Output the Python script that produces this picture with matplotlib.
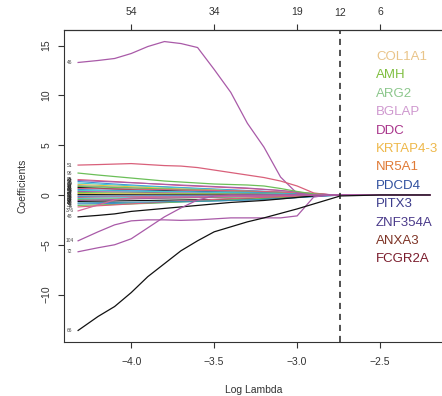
import matplotlib
matplotlib.use("Agg")
import matplotlib.pyplot as plt

plt.rcParams["font.family"] = ["Liberation Sans", "DejaVu Sans"]

# --- log lambda grids ---
x_fine = [-4.32, -4.2, -4.1, -4.0, -3.9, -3.8, -3.7, -3.6, -3.5, -3.4, -3.3,
          -3.2, -3.1, -3.0, -2.9, -2.8, -2.74, -2.5, -2.2]
x_coarse = [-4.32, -4.1, -3.9, -3.7, -3.5, -3.3, -3.1, -2.95, -2.8, -2.74, -2.5, -2.2]

# R palette (slightly washed like the picture)
RED = "#d9607a"; GREEN = "#6bbf58"; BLUE = "#3f8fd6"; CYAN = "#45c9d0"
MAG = "#a95aa8"; YEL = "#e2c544"; GRAY = "#a0a0a0"; BLK = "#111111"

# big paths, labelled at the left end
big_labels = ["46", "51", "96", "48", "376", "104", "72", "66"]
big_colors = [MAG, RED, GREEN, BLK, "#d2699a", MAG, MAG, BLK]
big_values = [
    [13.3, 13.5, 13.7, 14.2, 14.9, 15.4, 15.2, 14.8, 12.6, 10.3, 7.2, 4.8, 1.8, 0.15, 0.05, 0, 0, 0, 0],
    [3.0, 3.05, 3.1, 3.15, 3.05, 2.95, 2.9, 2.75, 2.5, 2.25, 2.0, 1.75, 1.4, 0.9, 0.2, 0, 0, 0, 0],
    [2.2, 2.0, 1.85, 1.7, 1.55, 1.4, 1.3, 1.2, 1.1, 1.05, 1.0, 0.9, 0.65, 0.35, 0.1, 0, 0, 0, 0],
    [-2.2, -2.05, -1.9, -1.65, -1.5, -1.35, -1.2, -1.05, -0.9, -0.75, -0.65, -0.55, -0.4, -0.25, -0.1, 0, 0, 0, 0],
    [-1.6, -1.0, -0.5, -0.3, -0.25, -0.22, -0.2, -0.18, -0.15, -0.12, -0.1, -0.08, -0.05, -0.03, -0.01, 0, 0, 0, 0],
    [-4.6, -3.7, -3.0, -2.6, -2.5, -2.5, -2.55, -2.5, -2.4, -2.3, -2.3, -2.3, -2.3, -2.1, -0.2, 0, 0, 0, 0],
    [-5.7, -5.3, -5.0, -4.4, -3.3, -2.2, -1.3, -0.5, -0.1, 0, 0, 0, 0, 0, 0, 0, 0, 0, 0],
    [-13.6, -12.2, -11.2, -9.8, -8.2, -6.9, -5.6, -4.6, -3.7, -3.2, -2.7, -2.3, -1.85, -1.4, -0.9, -0.4, -0.1, 0, 0],
]

# the dense bundle around zero
small_labels = ["25", "83", "17", "9", "60", "33", "71", "12", "88", "41", "5", "57", "29",
                "64", "77", "20", "93", "38", "2", "69", "14", "52", "45", "31", "8", "80"]
small_colors = [RED, MAG, BLUE, CYAN, YEL, GRAY, GREEN, BLK, RED, BLUE, CYAN, MAG, GREEN,
                YEL, BLK, GRAY, BLUE, RED, CYAN, GREEN, MAG, BLK, BLUE, GREEN, RED, "#3a8fb0"]
small_values = [
    [1.55, 1.35, 1.15, 0.95, 0.8, 0.65, 0.45, 0.2, 0.03, 0.01, 0, 0],
    [1.45, 1.3, 1.15, 1.0, 0.85, 0.7, 0.45, 0.2, 0.04, 0.02, 0, 0],
    [1.35, 1.1, 0.9, 0.75, 0.6, 0.45, 0.3, 0.12, 0.02, 0, 0, 0],
    [1.2, 1.0, 0.85, 0.7, 0.55, 0.4, 0.25, 0.1, 0.02, 0, 0, 0],
    [1.05, 0.9, 0.75, 0.6, 0.5, 0.35, 0.2, 0.08, 0.01, 0, 0, 0],
    [0.95, 0.8, 0.65, 0.55, 0.45, 0.35, 0.2, 0.08, 0.01, 0, 0, 0],
    [0.85, 0.75, 0.65, 0.55, 0.45, 0.35, 0.25, 0.1, 0.02, 0.01, 0, 0],
    [0.75, 0.6, 0.5, 0.4, 0.3, 0.2, 0.12, 0.05, 0.01, 0, 0, 0],
    [0.65, 0.6, 0.55, 0.5, 0.45, 0.4, 0.3, 0.15, 0.03, 0.01, 0, 0],
    [0.55, 0.45, 0.4, 0.35, 0.3, 0.25, 0.15, 0.06, 0.01, 0, 0, 0],
    [0.45, 0.4, 0.35, 0.3, 0.25, 0.2, 0.12, 0.05, 0.01, 0.01, 0.005, 0],
    [0.35, 0.3, 0.25, 0.2, 0.15, 0.1, 0.05, 0.02, 0, 0, 0, 0],
    [0.25, 0.2, 0.18, 0.15, 0.12, 0.1, 0.06, 0.03, 0.01, 0, 0, 0],
    [0.15, 0.12, 0.1, 0.08, 0.06, 0.04, 0.02, 0.01, 0, 0, 0, 0],
    [0.05, 0.03, 0.02, 0.02, 0.01, 0.01, 0, 0, 0, 0, 0, 0],
    [-0.05, -0.05, -0.04, -0.03, -0.02, -0.02, -0.01, 0, 0, 0, 0, 0],
    [-0.15, -0.12, -0.1, -0.08, -0.06, -0.05, -0.03, -0.01, 0, 0, 0, 0],
    [-0.25, -0.2, -0.18, -0.15, -0.12, -0.1, -0.06, -0.03, -0.01, 0, 0, 0],
    [-0.35, -0.3, -0.25, -0.2, -0.18, -0.15, -0.1, -0.05, -0.01, 0, 0, 0],
    [-0.45, -0.4, -0.35, -0.3, -0.25, -0.2, -0.15, -0.08, -0.02, -0.01, 0, 0],
    [-0.55, -0.45, -0.35, -0.28, -0.2, -0.15, -0.1, -0.05, -0.01, 0, 0, 0],
    [-0.65, -0.6, -0.55, -0.5, -0.45, -0.38, -0.28, -0.15, -0.04, -0.01, 0, 0],
    [-0.9, -0.85, -0.8, -0.7, -0.6, -0.5, -0.35, -0.2, -0.06, -0.02, 0, 0],
    [-1.05, -0.95, -0.85, -0.7, -0.55, -0.4, -0.25, -0.1, -0.02, 0, 0, 0],
    [-1.2, -1.0, -0.8, -0.6, -0.45, -0.3, -0.18, -0.08, -0.01, 0, 0, 0],
    [-0.8, -0.75, -0.7, -0.65, -0.6, -0.5, -0.38, -0.22, -0.08, -0.02, -0.005, 0],
]

# top axis: number of non-zero coefficients
top_pos = [-4.0, -3.5, -3.0, -2.5]
top_labels = ["54", "34", "19", "6"]
cv_lambda = -2.74
cv_df = "12"

genes = ["COL1A1", "AMH", "ARG2", "BGLAP", "DDC", "KRTAP4-3", "NR5A1",
         "PDCD4", "PITX3", "ZNF354A", "ANXA3", "FCGR2A"]
gene_colors = ["#e9c489", "#7fbf3f", "#8cc78c", "#cf98cf", "#a8338a", "#eeb84a",
               "#e07a35", "#2f4f9e", "#3c3c8c", "#4a3a8a", "#7e3426", "#7a1c2c"]

W, H = 442, 396
fig = plt.figure(figsize=(W / 100, H / 100), dpi=100)
ax = fig.add_axes([64 / W, 54 / H, 380 / W, 312 / H])

TXT = "#333333"
for lab, col, vals in zip(small_labels, small_colors, small_values):
    ax.plot(x_coarse, vals, color=col, lw=0.8)
    ax.text(-4.37, vals[0], lab, fontsize=3.5, color="#222222", ha="center", va="center")
for lab, col, vals in zip(big_labels, big_colors, big_values):
    ax.plot(x_fine, vals, color=col, lw=0.9)
    ax.text(-4.37, vals[0], lab, fontsize=3.5, color="#444444", ha="center", va="center")

ax.axvline(cv_lambda, color="#222222", lw=1.1, ls=(0, (4, 3.2)))

ax.set_xlim(-4.405, -2.115)
ax.set_ylim(-14.76, 16.56)
ax.set_xticks([-4.0, -3.5, -3.0, -2.5])
ax.set_xticklabels(["\u22124.0", "\u22123.5", "\u22123.0", "\u22122.5"])
ax.set_yticks([-10, -5, 0, 5, 10, 15])
ax.set_yticklabels(["\u221210", "\u22125", "0", "5", "10", "15"], rotation=90, va="center")
ax.tick_params(axis="both", direction="out", length=4, width=0.8, colors="#333333",
               labelsize=7.5, labelcolor=TXT)
ax.tick_params(axis="x", pad=7)
ax.tick_params(axis="y", pad=5)
for s in ax.spines.values():
    s.set_color("#333333"); s.set_linewidth(0.8)

top = ax.secondary_xaxis("top")
top.set_xticks(top_pos)
top.set_xticklabels(top_labels)
top.tick_params(direction="out", length=4, width=0.8, colors="#333333",
                labelsize=7.5, labelcolor=TXT, pad=5)
# df at the chosen lambda, on the same row as the top tick labels
ax.annotate(cv_df, xy=(cv_lambda, 1.0), xycoords=ax.get_xaxis_transform(),
            xytext=(0, 12.5), textcoords="offset points", fontsize=7.5,
            color=TXT, ha="center", va="center")

ax.set_xlabel("Log Lambda", fontsize=7.5, color=TXT, labelpad=12.5)
ax.set_ylabel("Coefficients", fontsize=7.5, color=TXT, labelpad=10)

# gene names on the right
for i, (g, c) in enumerate(zip(genes, gene_colors)):
    fig.text(376 / W, 1 - (57 + i * 18.4) / H, g, color=c, fontsize=9.5,
             ha="left", va="center")

fig.savefig("out.png", dpi=100)
